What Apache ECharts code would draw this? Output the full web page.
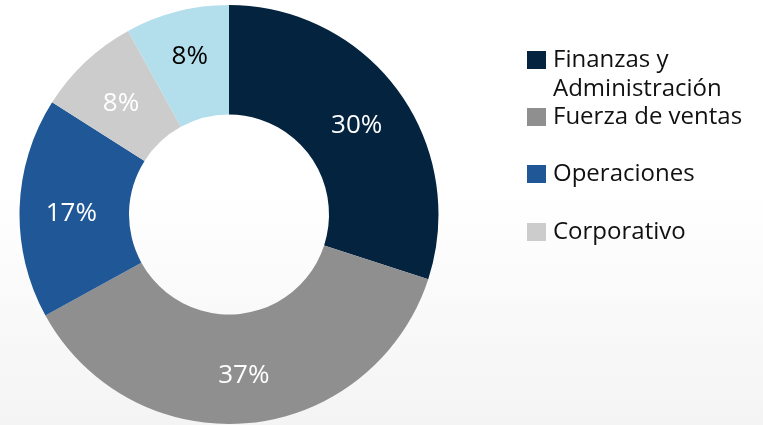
<!DOCTYPE html>
<html>
<head>
<meta charset="utf-8">
<script src="https://cdn.jsdelivr.net/npm/echarts@6/dist/echarts.min.js"></script>
<style>
  html, body { margin: 0; padding: 0; }
  body { background: linear-gradient(to bottom, #ffffff 0%, #ffffff 45%, #f4f4f4 100%); }
  #chart { width: 763px; height: 425px; }
</style>
</head>
<body>
<div id="chart"></div>
<script>
const names = ["Finanzas y Administración", "Fuerza de ventas", "Operaciones", "Corporativo", "Otros"];
const legendLabels = ["Finanzas y", "Fuerza de ventas", "Operaciones", "Corporativo"];
const values = [30, 37, 17, 8, 8];
const colors = ["#03233f", "#8f8f8f", "#1f5797", "#cccccc", "#b3deeb"];
const labelColors = ["#ffffff", "#ffffff", "#ffffff", "#ffffff", "#000000"];
const legendTops = [45, 102, 159, 217];

const chart = echarts.init(document.getElementById("chart"));

const fontFamily = "'Open Sans', sans-serif";

// one legend per entry so the uneven spacing can be matched
const legends = legendTops.map((top, i) => ({
  data: [names[i]],
  left: 527,
  top: top,
  padding: 0,
  icon: "rect",
  itemWidth: 19,
  itemHeight: 18,
  selectedMode: false,
  formatter: () => legendLabels[i],
  textStyle: {
    fontFamily: fontFamily,
    fontSize: 24,
    color: "#111111",
    lineHeight: 30,
    padding: [0, 0, 0, 2]
  }
}));

chart.setOption({
  backgroundColor: "transparent",
  animation: false,
  legend: legends,
  // second line of the first legend entry
  graphic: [{
    type: "text",
    left: 553,
    top: 77,
    style: {
      text: "Administración",
      font: "24px 'Open Sans', sans-serif",
      fill: "#111111"
    }
  }],
  series: [
    {
      type: "pie",
      center: [229, 214.5],
      radius: [100, 209.5],
      startAngle: 90,
      clockwise: true,
      labelLine: { show: false },
      label: {
        show: true,
        position: "inside",
        formatter: "{c}%",
        fontFamily: fontFamily,
        fontSize: 26
      },
      data: values.map((v, i) => ({
        value: v,
        name: names[i],
        itemStyle: { color: colors[i] },
        label: {
          color: labelColors[i],
          offset: i === 4 ? [0, -5] : [0, 4]
        }
      }))
    }
  ]
});
</script>
</body>
</html>
